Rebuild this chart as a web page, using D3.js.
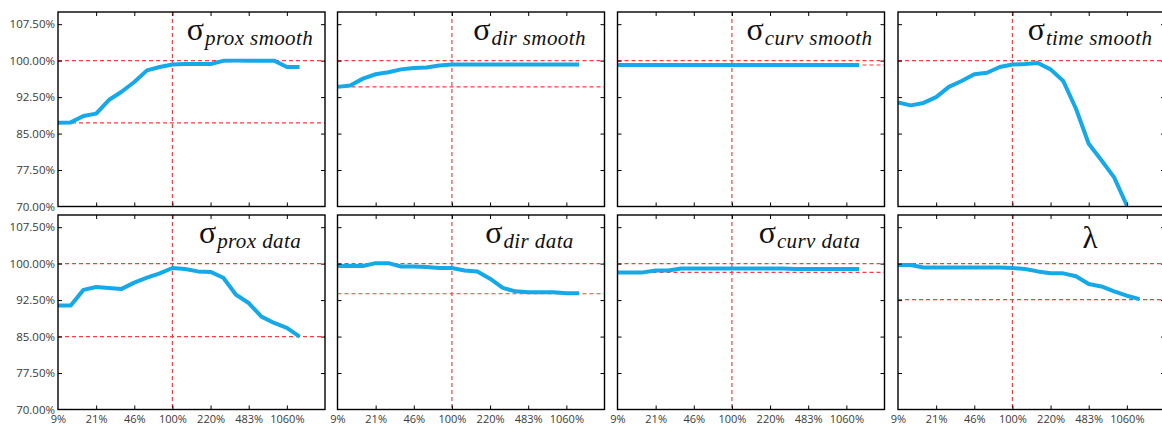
<!DOCTYPE html>
<html>
<head>
<meta charset="utf-8">
<script src="https://cdn.jsdelivr.net/npm/d3@7"></script>
<style>
  html, body { margin: 0; padding: 0; background: #fff; }
  svg { display: block; }
</style>
</head>
<body>
<svg id="chart" width="1162" height="426"></svg>
<script>
// ---- data ----
const xTickIndex = [0, 3, 6, 9, 12, 15, 18];
const xTickLabels = ["9%", "21%", "46%", "100%", "220%", "483%", "1060%"];
const yTicks = [70, 77.5, 85, 92.5, 100, 107.5];
const refIndex = 9;      // 100% of the default parameter
const refValue = 100;    // 100% accuracy

const panelNames = ["prox smooth", "dir smooth", "curv smooth", "time smooth",
                    "prox data", "dir data", "curv data", "λ"];

const proxSmooth = [87.2, 87.3, 88.6, 89.1, 91.9, 93.6, 95.6, 98.0, 98.7, 99.2,
                    99.3, 99.3, 99.3, 99.95, 100, 100, 100, 100, 98.7, 98.7];
const dirSmooth  = [94.6, 94.9, 96.3, 97.2, 97.6, 98.2, 98.5, 98.6, 99.0, 99.2,
                    99.2, 99.2, 99.2, 99.2, 99.2, 99.2, 99.2, 99.2, 99.2, 99.2];
const curvSmooth = [99.1, 99.1, 99.1, 99.1, 99.1, 99.1, 99.1, 99.1, 99.1, 99.1,
                    99.1, 99.1, 99.1, 99.1, 99.1, 99.1, 99.1, 99.1, 99.1, 99.1];
const timeSmooth = [91.4, 90.8, 91.3, 92.5, 94.6, 95.8, 97.2, 97.5, 98.7, 99.2,
                    99.3, 99.5, 98.2, 95.8, 90.1, 82.9, 79.5, 76.0, 70.2, null];
const proxData   = [91.4, 91.4, 94.6, 95.2, 95.0, 94.8, 96.1, 97.1, 98.0, 99.1,
                    98.9, 98.4, 98.3, 97.1, 93.6, 91.9, 89.1, 87.8, 86.8, 85.0];
const dirData    = [99.5, 99.5, 99.5, 100.1, 100.1, 99.4, 99.4, 99.3, 99.1, 99.1,
                    98.6, 98.4, 96.9, 95.0, 94.3, 94.1, 94.1, 94.1, 93.9, 93.9];
const curvData   = [98.2, 98.2, 98.2, 98.6, 98.6, 99.0, 99.0, 99.0, 99.0, 99.0,
                    99.0, 99.0, 99.0, 99.0, 98.9, 98.9, 98.9, 98.9, 98.9, 98.9];
const lambdaData = [99.7, 99.7, 99.2, 99.2, 99.2, 99.2, 99.2, 99.2, 99.2, 99.1,
                    98.9, 98.4, 98.0, 98.0, 97.4, 95.8, 95.3, 94.3, 93.4, 92.7];

const panelSeries = [proxSmooth, dirSmooth, curvSmooth, timeSmooth,
                     proxData, dirData, curvData, lambdaData];
// lowest accuracy reached (horizontal guide); null = below visible range
const panelMin = [87.2, 94.6, 99.1, null, 85.0, 93.8, 98.2, 92.6];

// ---- layout ----
const svg = d3.select("#chart");
const colLeft = [58, 337.5, 617.5, 898];
const rowTop = [12, 215];
const W = 267, H = 194.5;
const lineColor = "#15a9e8";
const guideColor = "#ff3b3b";
const textColor = "#3a3a3a";

const x = d3.scaleLinear().domain([0, 21]).range([0, W]);
const y = d3.scaleLinear().domain([70, 110]).range([H, 0]);

const defs = svg.append("defs");
defs.append("clipPath").attr("id", "clip")
  .append("rect").attr("x", 0).attr("y", 0).attr("width", W).attr("height", H);

panelSeries.forEach((series, k) => {
  const col = k % 4, row = Math.floor(k / 4);
  const g = svg.append("g")
    .attr("transform", `translate(${colLeft[col]},${rowTop[row]})`);

  // guide lines
  const guides = g.append("g").attr("clip-path", "url(#clip)")
    .attr("stroke", guideColor).attr("stroke-width", 1.2)
    .attr("stroke-dasharray", "4,3").attr("fill", "none");
  guides.append("line")
    .attr("x1", 0).attr("x2", W).attr("y1", y(refValue)).attr("y2", y(refValue));
  if (panelMin[k] !== null) {
    guides.append("line")
      .attr("x1", 0).attr("x2", W).attr("y1", y(panelMin[k])).attr("y2", y(panelMin[k]));
  }
  guides.append("line")
    .attr("x1", x(refIndex)).attr("x2", x(refIndex)).attr("y1", 0).attr("y2", H);

  // data line
  const line = d3.line()
    .defined(d => d !== null)
    .x((d, i) => x(i))
    .y(d => y(d));
  g.append("path")
    .datum(series)
    .attr("clip-path", "url(#clip)")
    .attr("d", line)
    .attr("fill", "none")
    .attr("stroke", lineColor)
    .attr("stroke-width", 4)
    .attr("stroke-linejoin", "round");

  // axes with inward ticks on all four sides
  const innerX = xTickIndex.filter(v => v > 0);
  const innerY = yTicks.filter(v => v > 70);
  const styleAxis = sel => {
    sel.select(".domain").remove();
    sel.selectAll(".tick line").attr("stroke", "#000").attr("stroke-width", 1);
    sel.selectAll("text").attr("fill", textColor)
      .style("font-family", "'Open Sans', sans-serif");
  };

  const bottom = g.append("g").attr("transform", `translate(0,${H})`)
    .call(d3.axisBottom(x).tickValues(row === 1 ? xTickIndex : innerX)
      .tickFormat(v => row === 1 ? xTickLabels[xTickIndex.indexOf(v)] : "")
      .tickSizeInner(-4).tickSizeOuter(0).tickPadding(6));
  bottom.call(styleAxis);
  bottom.selectAll("text").style("font-size", "11px");
  bottom.selectAll(".tick").filter(v => v === 0).select("line").remove();

  g.append("g")
    .call(d3.axisTop(x).tickValues(innerX).tickFormat("")
      .tickSizeInner(-4).tickSizeOuter(0))
    .call(styleAxis);

  const left = g.append("g")
    .call(d3.axisLeft(y).tickValues(col === 0 ? yTicks : innerY)
      .tickFormat(v => col === 0 ? v.toFixed(2) + "%" : "")
      .tickSizeInner(-4).tickSizeOuter(0).tickPadding(3));
  left.call(styleAxis);
  left.selectAll("text").style("font-size", "11.5px");
  left.selectAll(".tick").filter(v => v === 70).select("line").remove();

  g.append("g").attr("transform", `translate(${W},0)`)
    .call(d3.axisRight(y).tickValues(innerY).tickFormat("")
      .tickSizeInner(-4).tickSizeOuter(0))
    .call(styleAxis);

  // frame
  g.append("rect")
    .attr("x", 0).attr("y", 0).attr("width", W).attr("height", H)
    .attr("fill", "none").attr("stroke", "#000").attr("stroke-width", 1.4);

  // title
  const name = panelNames[k];
  const t = g.append("text")
    .attr("x", 192).attr("y", name === "λ" ? 33 : 28)
    .attr("text-anchor", "middle")
    .attr("fill", "#111")
    .style("font-family", "'Liberation Serif', 'Times New Roman', serif");
  if (name === "λ") {
    t.append("tspan").style("font-size", "31px").text("λ");
  } else {
    t.append("tspan").style("font-size", "32px").text("σ");
    t.append("tspan").attr("dy", 5).attr("dx", 1)
      .style("font-size", "21px").style("font-style", "italic")
      .style("letter-spacing", "0.4px")
      .text(name);
  }
});
</script>
</body>
</html>
